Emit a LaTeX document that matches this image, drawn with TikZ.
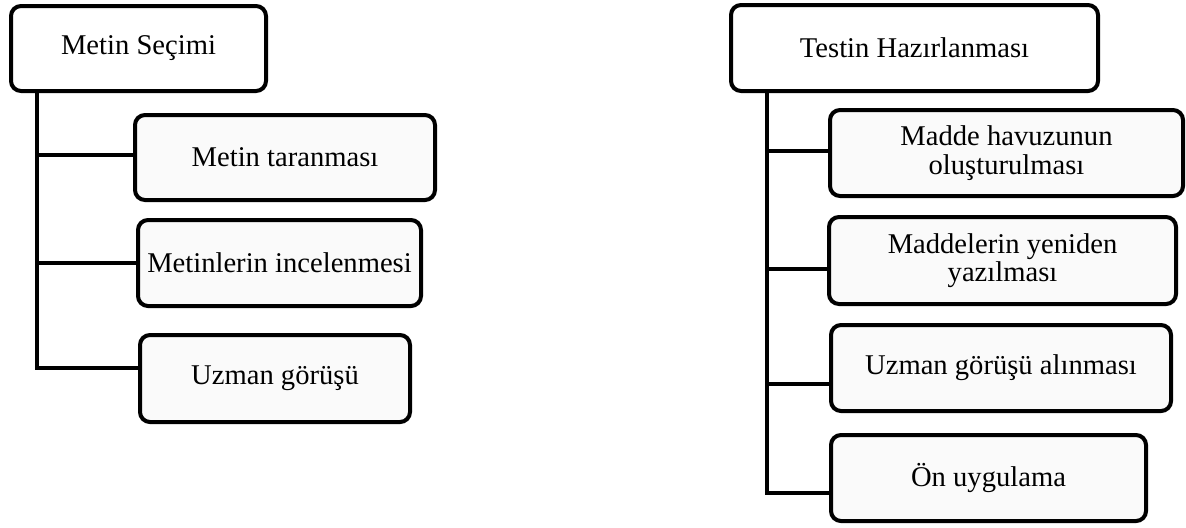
\documentclass[tikz,border=0pt]{standalone}
\usepackage{fontspec}
\setmainfont{Liberation Serif}
\begin{document}
\begin{tikzpicture}[x=0.5pt, y=-0.5pt,
    mainbox/.style={draw, line width=2pt, rounded corners=5pt, fill=white,
        align=center, inner sep=0pt, font=\fontsize{14.3}{14.3}\selectfont},
    subbox/.style={mainbox, fill=black!2},
    rail/.style={line width=2pt}]
    \useasboundingbox (0,0) rectangle (1186,527);
    % sol: metin secimi
    \node[mainbox, minimum width=127.5pt, minimum height=42.5pt] (secim) at (138.5,48.5) {Metin Seçimi};
    \node[subbox, minimum width=150pt, minimum height=42.5pt] (tarama) at (285,157.5) {Metin taranması};
    \node[subbox, minimum width=141.5pt, minimum height=43pt] (inceleme) at (279.5,263) {Metinlerin incelenmesi};
    \node[subbox, minimum width=135pt, minimum height=43.5pt] (uzman) at (275,378.5) {Uzman görüşü};
    \coordinate (s1) at (37,155);
    \coordinate (s2) at (37,263);
    \coordinate (s3) at (37,368);
    \draw[rail] (secim.south -| s1) -- (s3) -- (s3 -| uzman.west);
    \draw[rail] (s1) -- (s1 -| tarama.west);
    \draw[rail] (s2) -- (s2 -| inceleme.west);
    % sag: testin hazirlanmasi
    \node[mainbox, minimum width=183.5pt, minimum height=43pt] (hazirlama) at (914.5,48) {Testin Hazırlanması};
    \node[subbox, minimum width=176.5pt, minimum height=43pt] (havuz) at (1006.5,153) {Madde havuzunun\\oluşturulması};
    \node[subbox, minimum width=173.5pt, minimum height=43.5pt] (yazma) at (1002.5,260.5) {Maddelerin yeniden\\yazılması};
    \node[subbox, minimum width=170pt, minimum height=43pt] (gorus) at (1001,368) {Uzman görüşü alınması};
    \node[subbox, minimum width=157.5pt, minimum height=43pt] (onuyg) at (988.5,478) {Ön uygulama};
    \coordinate (t1) at (767,151);
    \coordinate (t2) at (767,269);
    \coordinate (t3) at (767,384);
    \coordinate (t4) at (767,493);
    \draw[rail] (hazirlama.south -| t1) -- (t4) -- (t4 -| onuyg.west);
    \draw[rail] (t1) -- (t1 -| havuz.west);
    \draw[rail] (t2) -- (t2 -| yazma.west);
    \draw[rail] (t3) -- (t3 -| gorus.west);
\end{tikzpicture}
\end{document}
